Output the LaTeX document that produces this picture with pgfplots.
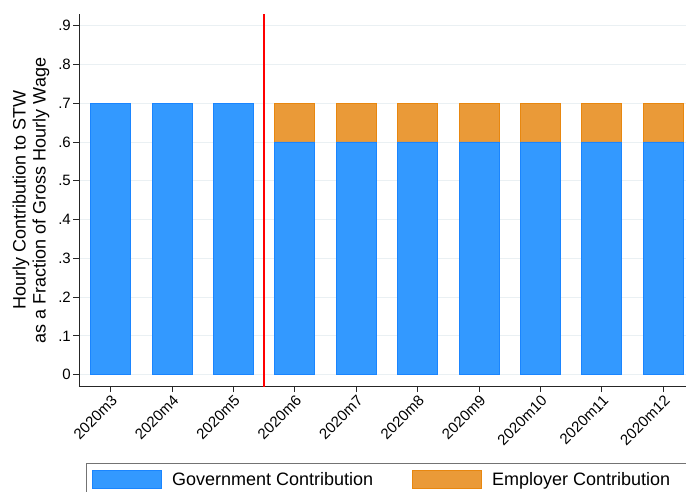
\documentclass[border=0pt]{standalone}
\usepackage{pgfplots}
\pgfplotsset{compat=1.18}
\usepackage{fontspec}
\setmainfont{Liberation Sans}
\definecolor{govblue}{HTML}{3399FF}
\definecolor{govedge}{HTML}{1A85FF}
\definecolor{emporange}{HTML}{EA9A38}
\definecolor{empedge}{HTML}{E8870F}
\definecolor{gridc}{HTML}{EAF0F3}
\begin{document}
\begin{tikzpicture}
\useasboundingbox (0,0) rectangle (686pt,491pt);
\clip (0,0) rectangle (686pt,491pt);
\begin{axis}[
  scale only axis,
  width=607pt, height=372.7pt,
  at={(79pt,104.3pt)}, anchor=south west,
  xmin=-0.516, xmax=9.37,
  ymin=-0.031, ymax=0.93,
  axis x line*=bottom, axis y line*=left,
  axis line style={line width=0.8pt, black!85},
  ybar, bar width=40pt,
  xtick={0,1,2,3,4,5,6,7,8,9},
  xticklabels={2020m3,2020m4,2020m5,2020m6,2020m7,2020m8,2020m9,2020m10,2020m11,2020m12},
  ytick={0,0.1,0.2,0.3,0.4,0.5,0.6,0.7,0.8,0.9},
  yticklabels={0,.1,.2,.3,.4,.5,.6,.7,.8,.9},
  tick align=outside, major tick length=5.5pt,
  tick style={line width=0.8pt, black!85},
  xticklabel style={rotate=45, anchor=north east, font=\fontsize{15}{17}\selectfont, inner sep=1.5pt},
  yticklabel style={font=\fontsize{15}{17}\selectfont, inner sep=2.5pt},
  ymajorgrids, major grid style={gridc, line width=0.8pt},
  ylabel={Hourly Contribution to STW\\as a Fraction of Gross Hourly Wage},
  ylabel style={at={(axis description cs:-0.079,0.5)}, anchor=center, align=center, font=\fontsize{18}{20}\selectfont},
  legend columns=2,
  reverse legend,
  legend style={at={(axis description cs:0.0115,-0.2039)}, anchor=north west,
    draw=black!55, line width=0.8pt, inner xsep=6pt, inner ysep=7pt,
    font=\fontsize{18}{20}\selectfont,
    /tikz/every odd column/.append style={column sep=8pt},
    /tikz/every even column/.append style={column sep=37pt}},
  legend image code/.code={\draw[#1, line width=0.8pt] (0pt,-9pt) rectangle (69pt,9pt);},
]
\addplot[bar shift=0pt, fill=emporange, draw=empedge, line width=0.8pt]
  coordinates {(3,0.7) (4,0.7) (5,0.7) (6,0.7) (7,0.7) (8,0.7) (9,0.7)};
\addlegendentry{Employer Contribution\rule{30pt}{0pt}}
\addplot[bar shift=0pt, fill=govblue, draw=govedge, line width=0.8pt]
  coordinates {(0,0.7) (1,0.7) (2,0.7) (3,0.6) (4,0.6) (5,0.6) (6,0.6) (7,0.6) (8,0.6) (9,0.6)};
\addlegendentry{Government Contribution}
\draw[red, line width=1.5pt] (axis cs:2.5,-0.031) -- (axis cs:2.5,0.93);
\end{axis}
\end{tikzpicture}
\end{document}
